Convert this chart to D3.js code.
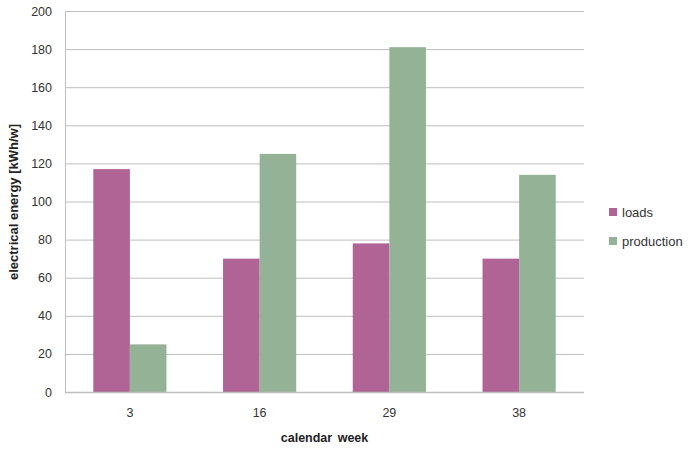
<!DOCTYPE html>
<html>
<head>
<meta charset="utf-8">
<script src="https://cdn.jsdelivr.net/npm/d3@7"></script>
<style>
  html, body { margin: 0; padding: 0; background: #fff; }
  svg { display: block; font-family: "Liberation Sans", Arial, sans-serif; }
</style>
</head>
<body>
<svg id="chart" width="692" height="452"></svg>
<script>
// Weekly electrical energy: loads vs. production
const weeks = ["3", "16", "29", "38"];
const loads = [117, 70, 78, 70];
const production = [25, 125, 181, 114];
const seriesNames = ["loads", "production"];
const yTicks = [0, 20, 40, 60, 80, 100, 120, 140, 160, 180, 200];

const colors = { loads: "#B06496", production: "#93B296" };

const svg = d3.select("#chart");
const margin = { left: 65, right: 108, top: 11, bottom: 60 };
const W = 692, H = 452;
const innerW = W - margin.left - margin.right;
const innerH = H - margin.top - margin.bottom;

const g = svg.append("g").attr("transform", `translate(${margin.left},${margin.top})`);

const x = d3.scaleBand().domain(weeks).range([0, innerW]).paddingInner(0.436).paddingOuter(0.218);
const xs = d3.scaleBand().domain(seriesNames).range([0, x.bandwidth()]);
const y = d3.scaleLinear().domain([0, 200]).range([innerH, 0]);

// horizontal gridlines
g.append("g").selectAll("line").data(yTicks.filter(t => t > 0)).join("line")
  .attr("x1", 0).attr("x2", innerW)
  .attr("y1", d => y(d) + 0.5).attr("y2", d => y(d) + 0.5)
  .attr("stroke", "#BEBEBE").attr("stroke-width", 1);

// y axis
const yAxis = g.append("g").call(d3.axisLeft(y).tickValues(yTicks).tickSize(0).tickPadding(13));
yAxis.select(".domain").remove();
yAxis.selectAll("text").attr("font-size", 12.5).attr("fill", "#333");
g.append("line").attr("x1", 0.5).attr("x2", 0.5).attr("y1", 0).attr("y2", innerH)
  .attr("stroke", "#BEBEBE");

// bars
const rows = weeks.map((w, i) => ({ week: w, loads: loads[i], production: production[i] }));
g.append("g").selectAll("g").data(rows).join("g")
  .attr("transform", d => `translate(${x(d.week)},0)`)
  .selectAll("rect").data(d => seriesNames.map(k => ({ key: k, value: d[k] }))).join("rect")
  .attr("x", d => xs(d.key))
  .attr("width", xs.bandwidth())
  .attr("y", d => y(d.value))
  .attr("height", d => innerH - y(d.value))
  .attr("fill", d => colors[d.key]);

// x axis
const xAxis = g.append("g").attr("transform", `translate(0,${innerH})`)
  .call(d3.axisBottom(x).tickSize(0).tickPadding(16));
xAxis.select(".domain").remove();
xAxis.selectAll("text").attr("font-size", 12.5).attr("fill", "#333");
g.append("line").attr("x1", 0).attr("x2", innerW).attr("y1", innerH + 0.5).attr("y2", innerH + 0.5)
  .attr("stroke", "#BEBEBE").attr("stroke-width", 1.5);

// axis titles
svg.append("text").attr("x", margin.left + innerW / 2).attr("y", 442)
  .attr("text-anchor", "middle").attr("font-size", 12.5).attr("font-weight", "bold")
  .attr("fill", "#222").attr("word-spacing", 2).text("calendar week");
svg.append("text").attr("transform", "translate(18,202) rotate(-90)")
  .attr("text-anchor", "middle").attr("font-size", 13).attr("font-weight", "bold")
  .attr("fill", "#222").text("electrical energy [kWh/w]");

// legend
const legend = svg.append("g").attr("transform", "translate(609,208)");
seriesNames.forEach((name, i) => {
  const row = legend.append("g").attr("transform", `translate(0,${i * 29})`);
  row.append("rect").attr("width", 8).attr("height", 8).attr("fill", colors[name]);
  row.append("text").attr("x", 13).attr("y", 8.5).attr("font-size", 13).attr("fill", "#333").text(name);
});
</script>
</body>
</html>
